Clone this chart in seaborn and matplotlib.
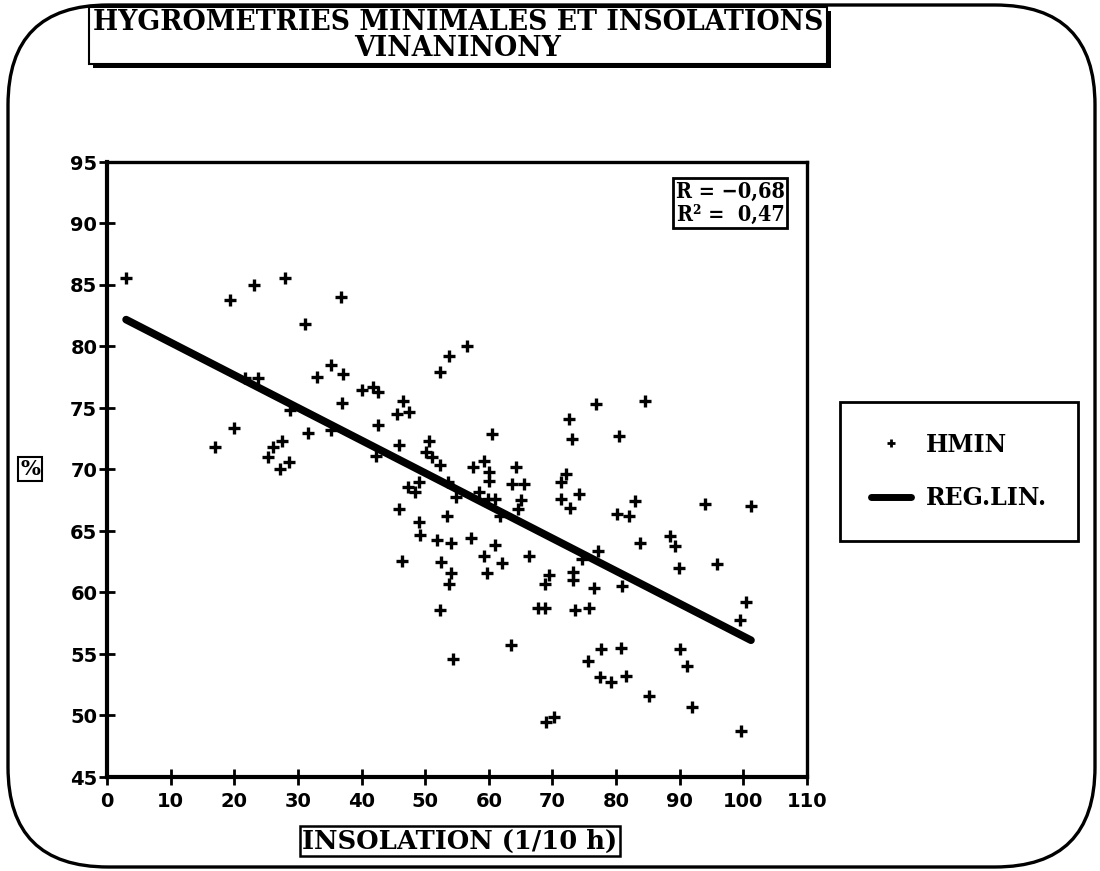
import numpy as np
import pandas as pd
import matplotlib
matplotlib.use("Agg")
import matplotlib.pyplot as plt
import matplotlib.patches as mpatches
import matplotlib.transforms as mtransforms
from matplotlib import font_manager
from matplotlib.lines import Line2D
import seaborn as sns

# Daily sunshine duration (1/10 h) and minimum relative humidity (%)
insolation = [
    3.0, 19.4, 23.1, 28.0, 36.7, 31.1, 35.2, 33.0, 37.1, 36.9,
    21.7, 23.8, 28.7, 17.0, 20.0, 25.3, 26.1, 27.5, 27.2, 28.6,
    31.6, 35.2, 42.6, 42.2, 40.0, 41.8, 42.6, 46.5, 45.5, 47.4,
    45.9, 53.7, 56.6, 52.3, 60.5, 50.6, 50.2, 51.0, 52.3, 57.5,
    59.3, 60.0, 60.0, 64.2, 63.6, 65.6, 65.0, 64.6, 53.6, 54.9,
    58.4, 59.9, 60.9, 61.7, 47.3, 48.4, 49.0, 45.9, 53.5, 49.0,
    49.2, 51.9, 54.0, 57.2, 60.9, 84.6, 76.9, 72.6, 73.0, 80.5,
    72.2, 71.4, 74.1, 71.4, 72.8, 83.0, 80.1, 82.1, 93.9, 101.2,
    77.2, 74.6, 83.8, 88.5, 89.3, 89.9, 95.9, 66.3, 62.1, 69.5,
    68.8, 73.3, 73.3, 76.5, 81.0, 46.4, 52.5, 54.1, 53.7, 52.3,
    54.4, 59.2, 59.7, 63.5, 67.7, 68.8, 73.6, 75.8, 69.0, 70.2,
    75.6, 77.6, 80.8, 77.5, 79.2, 81.5, 85.1, 90.0, 91.1, 92.0,
    100.4, 99.5, 99.7,
]
hmin = [
    85.6, 83.8, 85.0, 85.6, 84.0, 81.8, 78.5, 77.5, 77.8, 75.4,
    77.4, 77.4, 74.8, 71.8, 73.4, 71.0, 71.8, 72.3, 70.0, 70.6,
    73.0, 73.2, 73.6, 71.1, 76.5, 76.7, 76.3, 75.6, 74.5, 74.7,
    72.0, 79.2, 80.0, 77.9, 72.9, 72.3, 71.4, 71.0, 70.4, 70.2,
    70.7, 69.8, 69.1, 70.2, 68.8, 68.8, 67.5, 66.8, 69.0, 67.8,
    68.2, 67.6, 67.6, 66.2, 68.6, 68.2, 69.0, 66.8, 66.2, 65.7,
    64.7, 64.3, 64.0, 64.4, 63.9, 75.6, 75.3, 74.1, 72.5, 72.7,
    69.6, 69.0, 68.0, 67.6, 66.9, 67.4, 66.4, 66.2, 67.2, 67.0,
    63.4, 62.7, 64.0, 64.6, 63.8, 62.0, 62.3, 63.0, 62.4, 61.4,
    60.7, 61.7, 61.0, 60.4, 60.5, 62.6, 62.5, 61.6, 60.7, 58.6,
    54.6, 63.0, 61.6, 55.7, 58.7, 58.7, 58.6, 58.7, 49.5, 49.9,
    54.4, 55.4, 55.5, 53.1, 52.7, 53.2, 51.6, 55.4, 54.0, 50.7,
    59.2, 57.8, 48.7,
]

x_ticks = list(range(0, 111, 10))
y_ticks = list(range(45, 96, 5))
title_lines = ["HYGROMETRIES MINIMALES ET INSOLATIONS", "VINANINONY"]
x_label = "INSOLATION (1/10 h)"
y_label = "%"
stats_text = "R = \u22120,68\nR\u00b2 =  0,47"
legend_labels = ["HMIN", "REG.LIN."]

W, H = 1100, 871
sns.set_theme(style="white")
plt.rcParams["font.family"] = ["DejaVu Serif", "DejaVu Sans"]
for key in ["text.color", "axes.labelcolor", "xtick.color", "ytick.color",
            "axes.edgecolor"]:
    plt.rcParams[key] = "black"

# narrow serif for the statistics box, if a condensed face is available
narrow = font_manager.FontProperties(family="DejaVu Serif", weight="bold",
                                     stretch="condensed", size=15.5)

fig = plt.figure(figsize=(W / 100, H / 100), dpi=100)
fig.patch.set_facecolor("white")
# pixel coordinates measured from the top-left corner of the figure
px = mtransforms.Affine2D().scale(1 / W, -1 / H).translate(0, 1) + fig.transFigure

# outer rounded frame
fig.add_artist(mpatches.FancyBboxPatch(
    (8, 5), 1087, 862, boxstyle="round,pad=0,rounding_size=100",
    transform=px, fill=False, ec="black", lw=2.4))

# title block with drop shadow
fig.add_artist(mpatches.Rectangle((93, 11), 738, 57, transform=px,
                                  fc="black", ec="none"))
fig.add_artist(mpatches.Rectangle((89, 7), 738, 57, transform=px,
                                  fc="white", ec="black", lw=1.5))
for i, line in enumerate(title_lines):
    fig.text(458, 23 + 25 * i, line, transform=px, ha="center", va="center",
             fontsize=19.3, fontweight="bold", family="DejaVu Serif")

ax = fig.add_axes([107 / W, 1 - 777 / H, 700 / W, 615 / H])
df = pd.DataFrame({"insolation": insolation, "hmin": hmin})
sns.scatterplot(data=df, x="insolation", y="hmin", marker="+", s=75,
                color="black", linewidth=2.4, ax=ax, zorder=3)
sns.regplot(data=df, x="insolation", y="hmin", scatter=False, ci=None,
            color="black", ax=ax,
            line_kws=dict(lw=5.5, solid_capstyle="round", zorder=2))

ax.set_xlim(0, 110)
ax.set_ylim(45, 95)
ax.set_xticks(x_ticks)
ax.set_yticks(y_ticks)
ax.set_xlabel("")
ax.set_ylabel("")
for side in ["left", "bottom"]:
    ax.spines[side].set_linewidth(3)
for side in ["top", "right"]:
    ax.spines[side].set_linewidth(2.4)
for sp in ax.spines.values():
    sp.set_color("black")
ax.tick_params(axis="both", direction="inout", length=12, width=2,
               color="black", bottom=True, left=True, labelsize=14)
ax.tick_params(axis="x", pad=5)
ax.tick_params(axis="y", pad=1)
for lab in ax.get_xticklabels() + ax.get_yticklabels():
    lab.set_fontweight("heavy")
    lab.set_family("DejaVu Sans")
    lab.set_color("black")

# correlation box
ax.text(0.968, 0.97, stats_text, transform=ax.transAxes, ha="right",
        va="top", fontproperties=narrow, linespacing=1.05, color="black",
        bbox=dict(boxstyle="square,pad=0.12", fc="white", ec="black", lw=2))

# axis titles in boxes
fig.text(30, 469, y_label, transform=px, ha="center", va="center",
         fontsize=15, fontweight="bold", family="DejaVu Serif",
         bbox=dict(boxstyle="square,pad=0.1", fc="white", ec="black", lw=1.5))
fig.text(460, 841, x_label, transform=px, ha="center", va="center",
         fontsize=18.5, fontweight="bold", family="DejaVu Serif",
         bbox=dict(boxstyle="square,pad=0.1", fc="white", ec="black", lw=1.8))

handles = [
    Line2D([], [], marker="+", ls="", color="black", ms=6, mew=2),
    Line2D([], [], color="black", lw=5),
]
leg = fig.legend(handles, legend_labels, loc="upper left",
                 bbox_to_anchor=(840 / W, 1 - 402 / H),
                 bbox_transform=fig.transFigure, frameon=True,
                 fancybox=False, framealpha=1, borderpad=1.3,
                 labelspacing=1.25, handlelength=1.7, handletextpad=0.64,
                 borderaxespad=0,
                 prop=dict(family="DejaVu Serif", weight="bold", size=17))
for t in leg.get_texts():
    t.set_color("black")
frame = leg.get_frame()
frame.set_edgecolor("black")
frame.set_linewidth(2)

fig.savefig("out.png", dpi=100, facecolor="white")
